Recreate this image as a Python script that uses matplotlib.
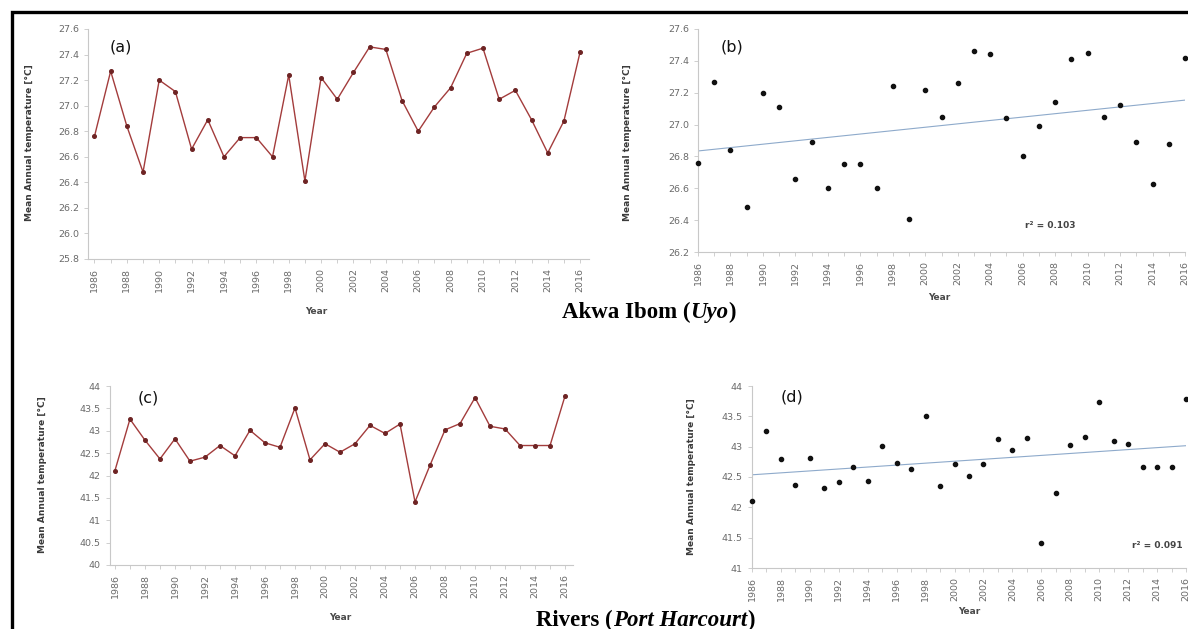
import numpy as np
import matplotlib

matplotlib.use("Agg")
import matplotlib.pyplot as plt
from matplotlib.ticker import MultipleLocator, FormatStrFormatter, FuncFormatter

W, H = 1188, 629

years = list(range(1986, 2017))
uyo_temp = [26.76, 27.27, 26.84, 26.48, 27.20, 27.11, 26.66, 26.89, 26.60, 26.75,
            26.75, 26.60, 27.24, 26.41, 27.22, 27.05, 27.26, 27.46, 27.44, 27.04,
            26.80, 26.99, 27.14, 27.41, 27.45, 27.05, 27.12, 26.89, 26.63, 26.88,
            27.42]
ph_temp = [42.11, 43.26, 42.79, 42.37, 42.82, 42.32, 42.41, 42.67, 42.44, 43.01,
           42.73, 42.63, 43.51, 42.35, 42.71, 42.52, 42.71, 43.12, 42.94, 43.15,
           41.41, 42.23, 43.02, 43.16, 43.74, 43.10, 43.04, 42.67, 42.67, 42.67,
           43.78]
r2_uyo = "r² = 0.103"
r2_ph = "r² = 0.091"

LINE_C = "#a33c3c"
MARK_C = "#6e2424"
TREND_C = "#8eaacb"
TICK_C = "#6a6a6a"
AX_C = "#c8c8c8"

fig = plt.figure(figsize=(W / 100, H / 100), dpi=100)


def px_axes(l, t, r, b):
    return fig.add_axes([l / W, 1 - b / H, (r - l) / W, (b - t) / H])


def style(ax, ylo, yhi, ystep, fmt):
    ax.set_ylim(ylo, yhi)
    ax.yaxis.set_major_locator(MultipleLocator(ystep))
    ax.yaxis.set_major_formatter(fmt)
    ax.xaxis.set_major_locator(MultipleLocator(2))
    ax.xaxis.set_minor_locator(MultipleLocator(1))
    ax.xaxis.set_major_formatter(FormatStrFormatter("%d"))
    for s in ("top", "right"):
        ax.spines[s].set_visible(False)
    for s in ("left", "bottom"):
        ax.spines[s].set_color(AX_C)
        ax.spines[s].set_linewidth(0.8)
    ax.tick_params(axis="both", which="both", colors=AX_C, labelcolor=TICK_C,
                   labelsize=6.8, length=3, width=0.6)
    ax.tick_params(axis="x", labelrotation=90)
    ax.set_facecolor("none")


def ylab(x, y):
    fig.text(x / W, 1 - y / H, "Mean Annual temperature [°C]", rotation=90,
             ha="center", va="center", fontsize=6.5, color="#3a3a3a",
             fontweight="bold")


def xlab(x, y):
    fig.text(x / W, 1 - y / H, "Year", ha="center", va="center",
             fontsize=6.5, color="#4a4a4a", fontweight="bold")


def tag(x, y, s):
    fig.text(x / W, 1 - y / H, s, ha="center", va="center", fontsize=11.5,
             color="#111111")


fmt1 = FormatStrFormatter("%.1f")
fmtg = FuncFormatter(lambda v, p: f"{v:g}")
xs = np.array([1986, 2016])

# (a) line chart, Akwa Ibom
ax_a = px_axes(88, 29, 589, 259)
ax_a.plot(years, uyo_temp, color=LINE_C, lw=1.0, marker="o", ms=2.6,
          mfc=MARK_C, mec=MARK_C)
ax_a.set_xlim(1985.6, 2016.55)
style(ax_a, 25.8, 27.6, 0.2, fmt1)
ylab(29, 143)
xlab(316, 312)
tag(121, 47, "(a)")

# (b) scatter + trend, Akwa Ibom
ax_b = px_axes(698, 29, 1185, 252)
ax_b.scatter(years, uyo_temp, s=9, color="#111111", zorder=3, clip_on=False)
k, c = np.polyfit(years, uyo_temp, 1)
ax_b.plot(xs, k * xs + c, color=TREND_C, lw=0.8)
ax_b.set_xlim(1986, 2016)
style(ax_b, 26.2, 27.6, 0.2, fmt1)
ylab(628, 143)
xlab(939, 297)
tag(732, 47, "(b)")
fig.text(1050 / W, 1 - 226 / H, r2_uyo, ha="center", va="center",
         fontsize=6.5, color="#444444", fontweight="bold")

# (c) line chart, Rivers
ax_c = px_axes(110, 386, 573, 565)
ax_c.plot(years, ph_temp, color=LINE_C, lw=1.0, marker="o", ms=2.6,
          mfc=MARK_C, mec=MARK_C)
ax_c.set_xlim(1985.67, 2016.53)
style(ax_c, 40, 44, 0.5, fmtg)
ylab(43, 475)
xlab(340, 618)
tag(148, 398, "(c)")

# (d) scatter + trend, Rivers
ax_d = px_axes(752, 386, 1186, 568)
ax_d.scatter(years, ph_temp, s=9, color="#111111", zorder=3, clip_on=False)
k, c = np.polyfit(years, ph_temp, 1)
ax_d.plot(xs, k * xs + c, color=TREND_C, lw=0.8)
ax_d.set_xlim(1986, 2016)
style(ax_d, 41, 44, 0.5, fmtg)
ylab(692, 477)
xlab(969, 612)
tag(792, 397, "(d)")
fig.text(1183 / W, 1 - 546 / H, r2_ph, ha="right", va="center",
         fontsize=6.5, color="#444444", fontweight="bold")

# overlay for frame and site captions (pixel coordinates)
ov = fig.add_axes([0, 0, 1, 1])
ov.set_xlim(0, W)
ov.set_ylim(H, 0)
ov.axis("off")
ov.plot([11.5, 11.5, W + 10], [H + 10, 12, 12], color="black", lw=2.4,
        solid_joinstyle="miter", clip_on=False)

renderer = fig.canvas.get_renderer()


def caption(x, y, parts):
    for s, st in parts:
        t = ov.text(x, y, s, fontsize=16.5, fontweight="bold", fontstyle=st,
                    family="Liberation Serif", va="baseline", ha="left",
                    color="black")
        x += t.get_window_extent(renderer).width  # pixels == data units


caption(562, 318, [("Akwa Ibom (", "normal"), ("Uyo", "italic"), (")", "normal")])
caption(536, 626, [("Rivers (", "normal"), ("Port Harcourt", "italic"), (")", "normal")])

fig.savefig("out.png", dpi=100)
